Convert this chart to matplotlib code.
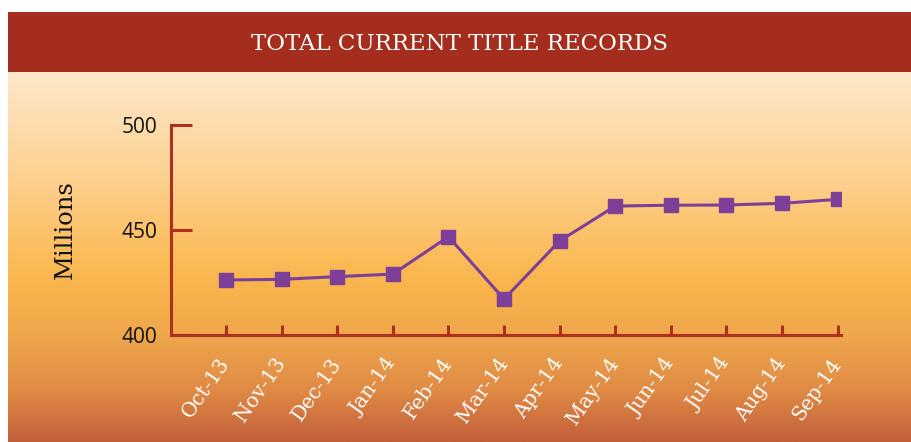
import numpy as np
import matplotlib
matplotlib.use("Agg")
import matplotlib.pyplot as plt
from matplotlib.colors import LinearSegmentedColormap
from matplotlib.patches import Rectangle

categories = ["Oct-13", "Nov-13", "Dec-13", "Jan-14", "Feb-14", "Mar-14",
              "Apr-14", "May-14", "Jun-14", "Jul-14", "Aug-14", "Sep-14"]
records = [426.2, 426.5, 427.8, 429.0, 446.8, 417.1,
           444.8, 461.4, 461.8, 461.9, 462.7, 464.6]
y_ticks = [400, 450, 500]
title = "TOTAL CURRENT TITLE RECORDS"
y_label = "Millions"

W, H = 911, 442
fig = plt.figure(figsize=(W / 100, H / 100), dpi=100)
fig.patch.set_facecolor("white")

# gradient background
bg = fig.add_axes([8 / W, 0, 1 - 8 / W, (H - 72) / H])
bg.set_axis_off()
stops = [(0.0, "#FEE7CB"), (0.27, "#FDD293"), (0.51, "#FBBB57"),
         (0.59, "#F8B34B"), (0.71, "#EFA74C"), (0.86, "#E08B45"),
         (1.0, "#C35F3B")]
cmap = LinearSegmentedColormap.from_list("bg", stops)
grad = np.linspace(0, 1, 256).reshape(-1, 1)
bg.imshow(grad, aspect="auto", cmap=cmap, extent=[0, 1, 0, 1], origin="upper")
bg.set_xlim(0, 1)
bg.set_ylim(0, 1)

# banner
ban = fig.add_axes([8 / W, (H - 72) / H, 1 - 8 / W, 60 / H])
ban.set_axis_off()
ban.add_patch(Rectangle((0, 0), 1, 1, color="#A52D1E", transform=ban.transAxes))
ban.text(0.5, 0.47, title, transform=ban.transAxes, ha="center", va="center",
         color="white", fontsize=16.5, family="DejaVu Serif")

# main chart
ax = fig.add_axes([171 / W, (H - 335) / H, 670 / W, 210 / H])
ax.patch.set_alpha(0)
x = np.arange(len(categories))
purple = "#7D3F98"
ax.plot(x, records, color=purple, lw=2.2, marker="s", markersize=10,
        markerfacecolor=purple, markeredgecolor=purple, zorder=3)
ax.set_xlim(-0.99, 11.06)
ax.set_ylim(400, 500)
ax.set_yticks(y_ticks)
ax.set_xticks(x)
ax.set_xticklabels(categories, rotation=55, ha="right", va="center",
                   rotation_mode="anchor", color="white", fontsize=14.5,
                   family="DejaVu Serif")
axis_red = "#B0301F"
for s in ["top", "right"]:
    ax.spines[s].set_visible(False)
for s in ["left", "bottom"]:
    ax.spines[s].set_color(axis_red)
    ax.spines[s].set_linewidth(2.2)
ax.tick_params(axis="x", direction="in", length=7, width=2.2, color=axis_red, pad=18)
ax.tick_params(axis="y", direction="in", length=15, width=2.2, color=axis_red,
               pad=10, labelsize=15, labelcolor="#111111")
for lab in ax.get_yticklabels():
    lab.set_family("Open Sans")
ax.set_ylabel(y_label, fontsize=17.5, family="DejaVu Serif", color="#111111", labelpad=32)

fig.savefig("out.png", dpi=100)
